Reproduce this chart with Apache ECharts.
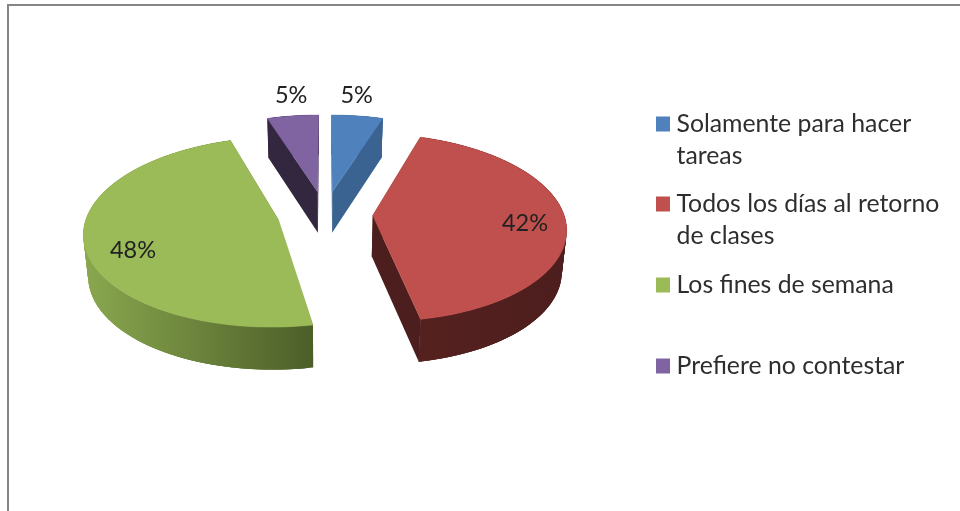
<!DOCTYPE html>
<html><head><meta charset="utf-8">
<style>html,body{margin:0;padding:0;background:#fff}#c{width:960px;height:511px}</style>
<script src="https://cdn.jsdelivr.net/npm/echarts@6/dist/echarts.min.js"></script>
</head><body><div id="c"></div>
<script>
const categories = ['Solamente para hacer tareas','Todos los días al retorno de clases','Los fines de semana','Prefiere no contestar'];
const legendLines = [['Solamente para hacer','tareas'],['Todos los días al retorno','de clases'],['Los fines de semana'],['Prefiere no contestar']];
const values = [5,42,48,5];

const topColors = ['#4f81bd','#c0504d','#9bbb59','#8064a2'];
const wallLeft  = ['#3a6391','#55211f','#8aa84f','#33263f'];
const wallRight = ['#3a6391','#4c1e1d','#4c5e28','#33263f'];
const explode = [0.25,0.25,0.25,0.25];
const labelPolar = [[-2,1.31],[2.3,0.789],[-9.7,0.782],[1.4,1.31]];
const legendIconY = [124,204,285,366];

const X0=325,Y0=214,A=191,B=92,K=0.128,DEPTH=41,BOTTOM_SCALE=0.98;
const rad=d=>d*Math.PI/180;
const total=values.reduce((a,b)=>a+b,0);
function project(X,Y){const w=1+K*Y;return [X0+A*X/w,Y0-B*Y/w,w];}

function sliceGeom(i){
  const start=values.slice(0,i).reduce((a,b)=>a+b,0)/total*360;
  const sweep=values[i]/total*360, mid=start+sweep/2;
  const cx=explode[i]*Math.sin(rad(mid)), cy=explode[i]*Math.cos(rad(mid));
  const apex=project(cx,cy), rim=[];
  for(let d=0;d<=Math.ceil(sweep);d++){
    const a=rad(start+Math.min(d,sweep));
    rim.push(project(cx+Math.sin(a),cy+Math.cos(a)));
  }
  return {mid,cx,cy,apex,rim};
}
function renderSlice(i){
  return function(){
    const g=sliceGeom(i), kids=[];
    const xy=p=>[p[0],p[1]];
    const down=p=>[X0+(p[0]-X0)*BOTTOM_SCALE,p[1]+DEPTH/Math.pow(p[2],0.25)];
    const quad=(a,b,fill)=>kids.push({type:'polygon',shape:{points:[xy(a),xy(b),down(b),down(a)]},style:{fill}});
    quad(g.apex,g.rim[0],wallLeft[i]);
    quad(g.apex,g.rim[g.rim.length-1],wallRight[i]);
    const xs=g.rim.map(p=>p[0]),minX=Math.min(...xs),maxX=Math.max(...xs);
    const grad=new echarts.graphic.LinearGradient(minX,0,maxX,0,[
      {offset:0,color:wallLeft[i]},{offset:1,color:wallRight[i]}],true);
    for(let j=0;j<g.rim.length-1;j++)quad(g.rim[j],g.rim[Math.min(j+3,g.rim.length-1)],grad);
    kids.push({type:'polygon',shape:{points:[xy(g.apex)].concat(g.rim.map(xy))},style:{fill:topColors[i],stroke:topColors[i],lineWidth:0.5}});
    const la=rad(g.mid+labelPolar[i][0]),lr=labelPolar[i][1];
    const lp=project(g.cx+lr*Math.sin(la),g.cy+lr*Math.cos(la));
    kids.push({type:'text',style:{x:lp[0],y:lp[1],text:values[i]+'%',align:'center',verticalAlign:'middle',
      fill:'#222',font:'23.5px Lato'}});
    return {type:'group',children:kids};
  };
}
const series=categories.map((name,i)=>({type:'custom',name,coordinateSystem:'none',silent:true,
  itemStyle:{color:topColors[i]},data:[[values[i]]],renderItem:renderSlice(i),animation:false}));
const legend=categories.map((name,i)=>{
  const lines=legendLines[i],two=lines.length>1;
  return {data:[name],left:656,top:legendIconY[i]-(two?48:16),padding:0,selectedMode:false,
    itemWidth:14,itemHeight:15,icon:'rect',
    formatter:()=>two?' \n'+lines.join('\n'):lines[0],
    textStyle:{fontFamily:'Lato',fontSize:24.8,lineHeight:32,color:'#2e2e2e',padding:[0,0,0,1.5]}};
});
const chart=echarts.init(document.getElementById('c'),null,{renderer:'canvas'});
chart.setOption({animation:false,backgroundColor:'#fff',
  graphic:[{type:'rect',silent:true,z:-1,shape:{x:8,y:5,width:1200,height:900},style:{fill:'#fff',stroke:'#868686',lineWidth:2}}],
  legend,series});
</script></body></html>
